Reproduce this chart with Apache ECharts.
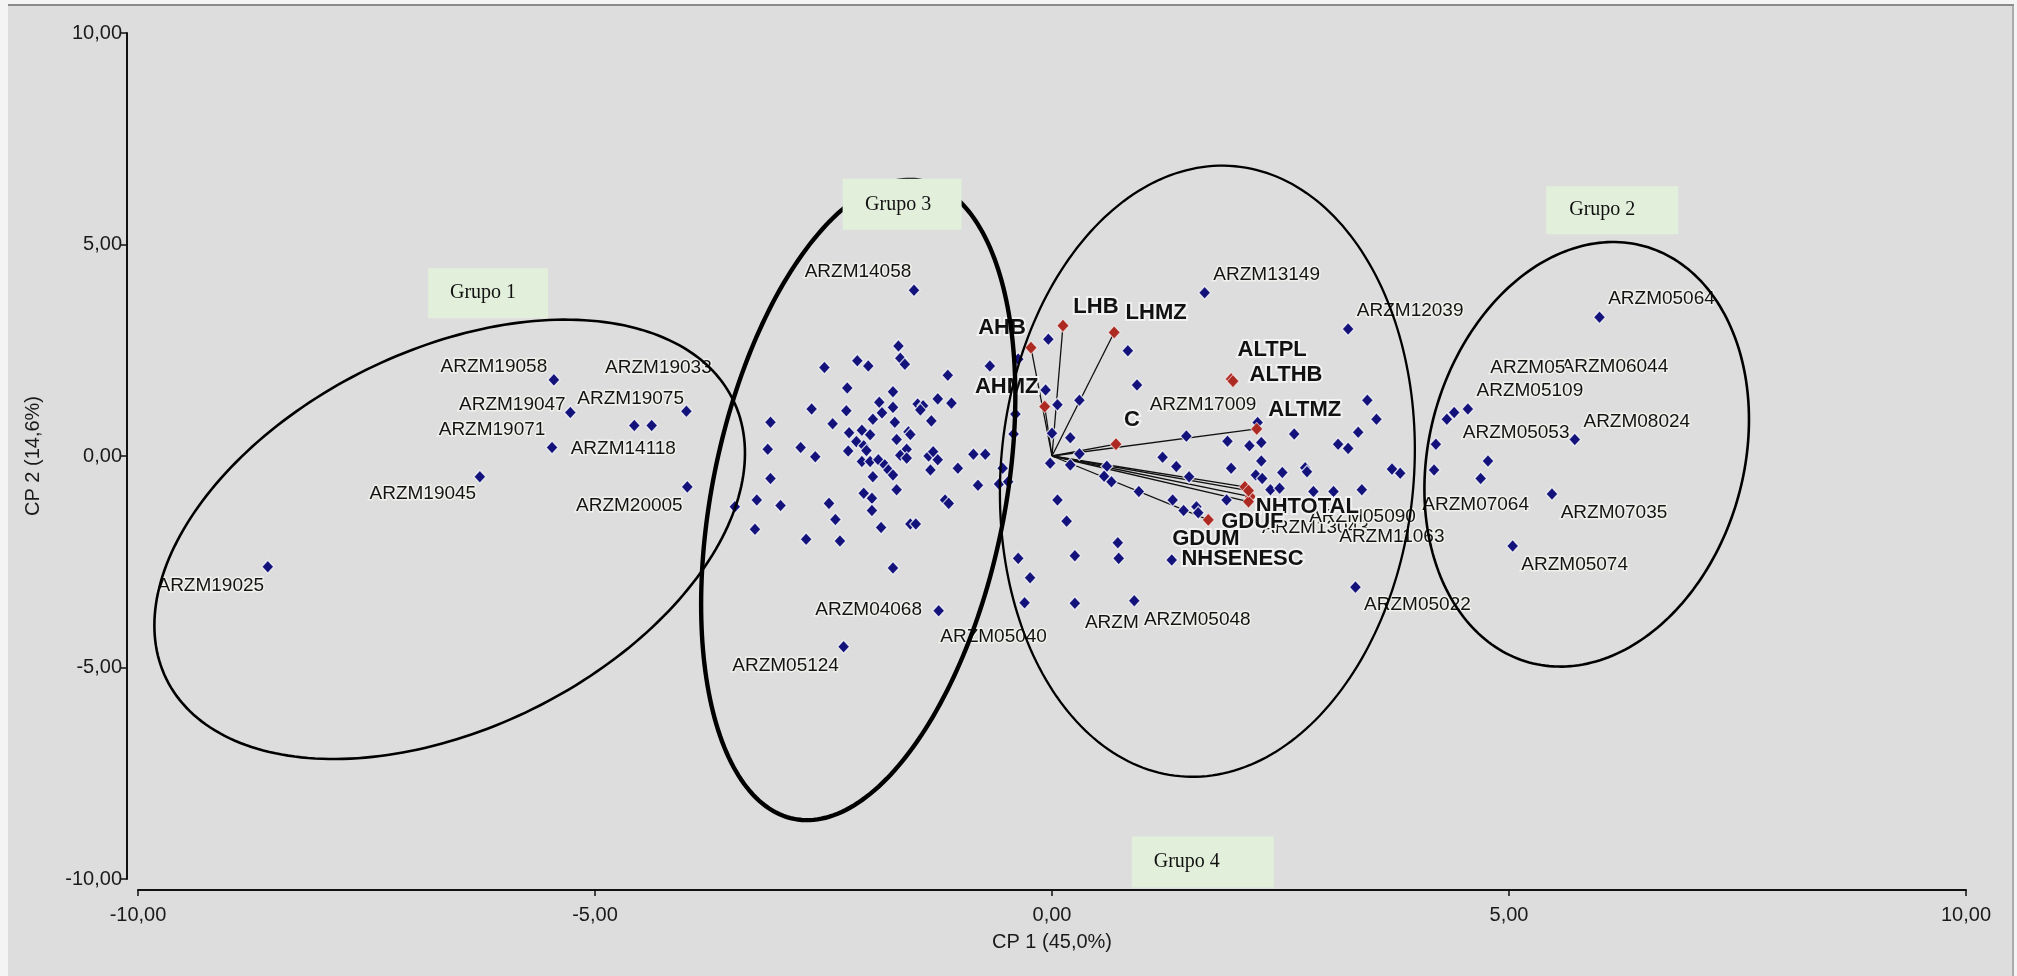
<!DOCTYPE html>
<html><head><meta charset="utf-8">
<script src="https://cdn.jsdelivr.net/npm/echarts@6/dist/echarts.min.js"></script>
<style>html,body{margin:0;padding:0;background:#f3f3f3;}#c{width:2017px;height:976px;}</style>
</head><body><div id="c"></div>
<script>
// ---------- axis ----------
const axisMin = -10, axisMax = 10, axisStep = 5;
const xAxisTitle = 'CP 1 (45,0%)';
const yAxisTitle = 'CP 2 (14,6%)';

// ---------- genotype scores [CP1, CP2, label] ----------
const group1Points = [
  [-5.45, 1.80, 'ARZM19058'], [-5.27, 1.03, 'ARZM19047'], [-5.47, 0.20, 'ARZM19071'],
  [-4.57, 0.72, 'ARZM14118'], [-4.38, 0.72, 'ARZM19075'], [-4.00, 1.06, 'ARZM19033'],
  [-6.26, -0.49, 'ARZM19045'], [-3.99, -0.73, 'ARZM20005'], [-8.58, -2.62, 'ARZM19025']
];
const group3Points = [
  [-1.51, 3.92, 'ARZM14058'],
  [-1.68, 2.60], [-1.66, 2.31], [-1.61, 2.17], [-2.13, 2.25], [-2.01, 2.13], [-2.49, 2.09], [-1.14, 1.91], [-2.24, 1.61], [-1.74, 1.52],
  [-0.68, 2.13], [-0.37, 2.29], [-0.04, 2.76], [-0.07, 1.56], [-1.89, 1.27], [-1.74, 1.15], [-1.47, 1.23], [-1.41, 1.19], [-1.44, 1.09], [-1.25, 1.35],
  [-1.10, 1.25], [-2.63, 1.11], [-2.25, 1.07], [-1.86, 1.02], [-1.96, 0.87], [-1.72, 0.80], [-1.32, 0.83], [-3.08, 0.80], [-2.40, 0.76], [-0.40, 0.99],
  [0.06, 1.21], [-2.22, 0.55], [-2.08, 0.61], [-1.99, 0.50], [-1.57, 0.57], [-1.55, 0.51], [-1.70, 0.39], [-0.42, 0.52], [0.20, 0.43], [-2.14, 0.34],
  [-2.06, 0.24], [-2.23, 0.12], [-2.03, 0.13], [-2.75, 0.20], [-3.11, 0.16], [-2.59, -0.02], [-1.59, 0.16], [-1.66, 0.02], [-1.59, -0.05], [-1.35, 0.00],
  [-1.30, 0.10], [-1.25, -0.09], [-0.86, 0.04], [-0.73, 0.04], [-2.08, -0.13], [-1.99, -0.13], [-1.90, -0.09], [-1.83, -0.21], [-1.79, -0.33], [-1.74, -0.45],
  [-1.33, -0.33], [-1.03, -0.29], [-0.54, -0.29], [-0.02, -0.17], [-3.08, -0.53], [-1.96, -0.49], [-0.81, -0.69], [-0.58, -0.66], [-0.48, -0.61], [-1.70, -0.80],
  [-2.06, -0.88], [-1.97, -1.00], [-3.47, -1.20], [-3.23, -1.04], [-2.97, -1.17], [-2.44, -1.12], [-1.17, -1.04], [-1.13, -1.12], [0.06, -1.04], [-2.37, -1.50],
  [-1.97, -1.29], [-3.25, -1.73], [-1.87, -1.69], [-1.55, -1.61], [-1.49, -1.61], [0.16, -1.54], [-2.69, -1.97], [-2.32, -2.01], [-1.74, -2.65], [-0.37, -2.42],
  [0.25, -2.36], [-0.24, -2.88],
  [-1.24, -3.66, 'ARZM04068'], [-2.28, -4.51, 'ARZM05124'], [-0.30, -3.47, 'ARZM05040']
];
const group4Points = [
  [0.25, -3.48, 'ARZM'], [0.90, -3.42, 'ARZM05048'], [3.32, -3.10, 'ARZM05022'],
  [1.67, 3.86, 'ARZM13149'], [3.24, 3.00, 'ARZM12039'], [0.83, 2.49], [0.93, 1.68, 'ARZM17009'], [0.30, 1.32],
  [3.45, 1.32], [3.55, 0.87], [3.35, 0.56], [2.25, 0.79], [2.65, 0.52], [3.13, 0.28], [3.24, 0.18],
  [0.00, 0.54], [1.47, 0.47], [1.92, 0.35], [2.16, 0.24], [2.29, 0.32], [1.21, -0.03], [1.36, -0.25], [1.96, -0.29], [2.29, -0.12],
  [2.23, -0.45], [2.30, -0.53], [2.52, -0.39], [2.77, -0.28], [2.79, -0.37], [3.72, -0.31], [3.81, -0.41],
  [0.60, -0.24], [1.50, -0.49], [0.65, -0.61], [0.57, -0.48], [0.95, -0.84],
  [2.39, -0.80, 'ARZM13043'], [2.49, -0.76], [3.39, -0.80, 'ARZM11063'], [3.08, -0.84, 'ARZM05090'], [2.86, -0.84],
  [1.91, -1.04], [1.32, -1.04], [1.44, -1.29], [1.58, -1.20], [1.60, -1.34],
  [0.72, -2.05], [0.73, -2.42], [1.31, -2.46], [0.30, 0.05], [0.20, -0.21]
];
const group2Points = [
  [5.99, 3.28, 'ARZM05064'], [5.72, 0.39, 'ARZM08024'],
  [4.20, 0.28, 'ARZM06044'], [4.32, 0.87, 'ARZM05'], [4.40, 1.03, 'ARZM05053'], [4.55, 1.11, 'ARZM05109'],
  [4.18, -0.33], [4.77, -0.12], [4.69, -0.53, 'ARZM07064'], [5.47, -0.90, 'ARZM07035'], [5.04, -2.13, 'ARZM05074']
];

// ---------- variable loadings (biplot vectors) ----------
const variableNames = ['AHB', 'LHB', 'LHMZ', 'AHMZ', 'ALTPL', 'ALTHB', 'ALTMZ', 'C', 'NHTOTAL', 'GDUF', 'GDUM', 'NHSENESC', ''];
const variableX     = [-0.23, 0.12, 0.68, -0.08, 1.96, 1.98, 2.24, 0.70, 2.17, 1.71, 2.11, 2.15, 2.15];
const variableY     = [2.56, 3.08, 2.92, 1.17, 1.82, 1.77, 0.64, 0.28, -0.96, -1.51, -0.73, -1.08, -0.82];
const variablesWithoutVector = ['ALTPL', 'ALTHB'];

// ---------- group annotations (ellipses in data units: centre, semi-axis vectors) ----------
const groupNames   = ['Grupo 1', 'Grupo 2', 'Grupo 3', 'Grupo 4'];
const groupCentre  = [[-6.59, -1.97], [5.85, 0.04], [-2.12, -1.04], [1.70, -0.36]];
const groupAxisA   = [[3.10, 3.30], [0.63, 4.92], [0.70, 7.54], [0.30, 7.21]];
const groupAxisB   = [[0.91, -4.01], [1.66, -0.99], [1.57, -0.66], [2.25, -0.44]];
const groupTagAt   = [[-6.17, 3.85], [6.13, 5.81], [-1.64, 5.95], [1.65, -9.60]];

// ---------- styles (not data) ----------
const FONT = "'Liberation Sans', Arial, sans-serif";
const ellipseWidth = [2.6, 2.6, 4.4, 2.3];
const tagSize = [[120, 50], [132, 48], [119, 51], [142, 51]];
const tagTextDx = [-5, -10, -4, -16];
const labelOffset = {
  ARZM19058: [-60, -13], ARZM19047: [-58, -8], ARZM19071: [-60, -18], ARZM14118: [-11, 23],
  ARZM19075: [-21, -27], ARZM19033: [-28, -43], ARZM19045: [-57, 17], ARZM20005: [-58, 19], ARZM19025: [-57, 19],
  ARZM14058: [-56, -18], ARZM04068: [-70, -1], ARZM05124: [-58, 19], ARZM05040: [-31, 34],
  ARZM: [37, 20], ARZM05048: [63, 19], ARZM05022: [62, 18], ARZM13149: [62, -18], ARZM12039: [62, -18],
  ARZM17009: [66, 20], ARZM13043: [45, 38], ARZM05090: [29, 25], ARZM11063: [30, 47],
  ARZM05109: [62, -18], ARZM05053: [62, 20], ARZM05: [81, -51], ARZM06044: [179, -77],
  ARZM07064: [-5, 26], ARZM07035: [62, 19], ARZM05074: [62, 19], ARZM05064: [62, -18], ARZM08024: [62, -18]
};
const varLabelOffset = {
  AHB: [-29, -20], LHB: [33, -19], LHMZ: [42, -20], AHMZ: [-38, -20], ALTPL: [41, -29], ALTHB: [53, -6],
  ALTMZ: [48, -19], C: [16, -24], NHTOTAL: [57, 10], GDUF: [44, 2], GDUM: [-39, 52], NHSENESC: [-6, 57]
};

const fmt = v => v.toFixed(2).replace('.', ',');

const allPoints = [].concat(group1Points, group3Points, group4Points, group2Points);
const pointData = allPoints.map(p => {
  const item = { value: [p[0], p[1]], name: p[2] || '' };
  if (p[2]) {
    item.label = { show: true, offset: labelOffset[p[2]] || [62, -18] };
  }
  return item;
});
const varData = variableNames.map((n, i) => ({
  value: [variableX[i], variableY[i]], name: n,
  label: { show: !!n, offset: varLabelOffset[n] || [0, 0] }
}));
const vectorData = variableNames.map((n, i) => ({ n, coords: [[0, 0], [variableX[i], variableY[i]]] }))
  .filter(d => variablesWithoutVector.indexOf(d.n) < 0);

const chart = echarts.init(document.getElementById('c'), null, { renderer: 'canvas' });
chart.setOption({
  animation: false,
  backgroundColor: '#dddddd',
  graphic: [
    { type: 'rect', shape: { x: 0, y: 0, width: 8, height: 976 }, style: { fill: '#f4f4f4' }, silent: true },
    { type: 'rect', shape: { x: 0, y: 0, width: 2017, height: 4 }, style: { fill: '#f4f4f4' }, silent: true },
    { type: 'rect', shape: { x: 2014, y: 0, width: 3, height: 976 }, style: { fill: '#f4f4f4' }, silent: true },
    { type: 'line', shape: { x1: 8, y1: 5, x2: 2014, y2: 5 }, style: { stroke: '#8a8a8a', lineWidth: 2 }, silent: true },
    { type: 'line', shape: { x1: 2013, y1: 5, x2: 2013, y2: 976 }, style: { stroke: '#9a9a9a', lineWidth: 1.5 }, silent: true }
  ],
  grid: { left: 138, right: 51, top: 33, bottom: 97, containLabel: false },
  xAxis: {
    type: 'value', min: axisMin, max: axisMax, interval: axisStep, offset: 11,
    name: xAxisTitle, nameLocation: 'middle', nameGap: 42,
    nameTextStyle: { fontFamily: FONT, fontSize: 20, color: '#1a1a1a' },
    axisLine: { show: true, onZero: false, lineStyle: { color: '#111', width: 2 } },
    axisTick: { show: true, length: 6, lineStyle: { color: '#111', width: 1.5 } },
    axisLabel: { formatter: fmt, margin: 15, fontFamily: FONT, fontSize: 20, color: '#1a1a1a' },
    splitLine: { show: false }
  },
  yAxis: {
    type: 'value', min: axisMin, max: axisMax, interval: axisStep, offset: 11,
    name: yAxisTitle, nameLocation: 'middle', nameGap: 84, nameRotate: 90,
    nameTextStyle: { fontFamily: FONT, fontSize: 20, color: '#1a1a1a' },
    axisLine: { show: true, onZero: false, lineStyle: { color: '#111', width: 2 } },
    axisTick: { show: true, length: 6, lineStyle: { color: '#111', width: 1.5 } },
    axisLabel: { formatter: fmt, margin: 5, fontFamily: FONT, fontSize: 20, color: '#1a1a1a' },
    splitLine: { show: false }
  },
  series: [
    {
      type: 'lines', coordinateSystem: 'cartesian2d', z: 2, silent: true,
      lineStyle: { color: '#111', width: 1.3, opacity: 1, curveness: 0 },
      data: vectorData
    },
    {
      type: 'scatter', z: 3, silent: true,
      symbol: 'diamond', symbolSize: [12, 13],
      itemStyle: { color: '#12127a', borderColor: 'rgba(255,255,255,0.75)', borderWidth: 1.3, opacity: 1 },
      label: {
        show: false, position: 'inside', formatter: '{b}', align: 'center', verticalAlign: 'middle',
        fontFamily: FONT, fontSize: 19, color: '#141414', textBorderColor: '#efefeb', textBorderWidth: 3
      },
      data: pointData
    },
    {
      type: 'scatter', z: 5, silent: true,
      symbol: 'diamond', symbolSize: [12, 13],
      itemStyle: { color: '#ad2a22', borderColor: 'rgba(255,255,255,0.6)', borderWidth: 1, opacity: 1 },
      label: {
        show: true, position: 'inside', formatter: '{b}', align: 'center', verticalAlign: 'middle',
        fontFamily: FONT, fontSize: 22, fontWeight: 'bold', color: '#111', textBorderColor: '#f1f1f1', textBorderWidth: 4
      },
      data: varData
    },
    {
      type: 'custom', coordinateSystem: 'cartesian2d', z: 8, silent: true,
      data: groupCentre.map((c, i) => [c[0], c[1], i]),
      renderItem: function (params, api) {
        const i = api.value(2);
        const c0 = groupCentre[i], A = groupAxisA[i], B = groupAxisB[i];
        const c = api.coord([c0[0], c0[1]]);
        const pa = api.coord([c0[0] + A[0], c0[1] + A[1]]);
        const pb = api.coord([c0[0] + B[0], c0[1] + B[1]]);
        const ax = pa[0] - c[0], ay = pa[1] - c[1], bx = pb[0] - c[0], by = pb[1] - c[1];
        const pts = [];
        for (let k = 0; k < 240; k++) {
          const t = k / 240 * Math.PI * 2;
          pts.push([c[0] + Math.cos(t) * ax + Math.sin(t) * bx, c[1] + Math.cos(t) * ay + Math.sin(t) * by]);
        }
        return { type: 'polygon', shape: { points: pts }, style: { fill: 'none', stroke: '#000', lineWidth: ellipseWidth[i] } };
      }
    },
    {
      type: 'custom', coordinateSystem: 'cartesian2d', z: 9, silent: true,
      data: groupTagAt.map((c, i) => [c[0], c[1], i]),
      renderItem: function (params, api) {
        const i = api.value(2);
        const p = api.coord([api.value(0), api.value(1)]);
        const w = tagSize[i][0], h = tagSize[i][1];
        return {
          type: 'group', children: [
            { type: 'rect', shape: { x: p[0] - w / 2, y: p[1] - h / 2, width: w, height: h }, style: { fill: '#e2efda' } },
            { type: 'text', style: { text: groupNames[i], x: p[0] + tagTextDx[i], y: p[1], align: 'center', verticalAlign: 'middle',
              fontFamily: "'Liberation Serif', 'Times New Roman', serif", fontSize: 20, fill: '#111' } }
          ]
        };
      }
    }
  ]
});
</script>
</body></html>
